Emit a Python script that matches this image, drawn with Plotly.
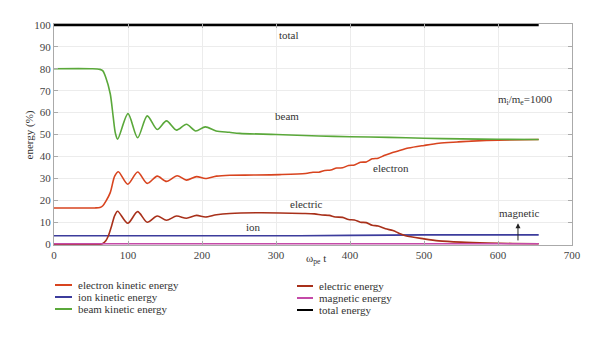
import plotly.graph_objects as go

# ---------------- data ----------------
t_beam = [0, 50, 62, 66, 70, 76, 80, 83, 86, 100, 113, 126, 139.5, 152, 165.6, 179, 191.5,
          204.5, 219, 237, 251, 300, 358, 400, 452, 500, 550, 600, 655]
beam = [80, 80, 79.7, 79, 76, 68.6, 58, 50.5, 47.9, 59.5, 48.5, 58.5, 52.3, 56.2, 52, 54.7, 51.6,
        53.5, 51.6, 51, 50.5, 50, 49.3, 49, 48.7, 48.3, 48, 47.8, 47.7]

t_electron = [0, 55, 62, 66, 70, 76, 82, 87, 99.7, 113, 126, 139.5, 152, 166.4, 179, 192.6, 204.6,
              219.6, 237.6, 270, 305, 340, 350, 358, 366, 374, 382, 390, 398, 406, 414, 422, 430,
              438, 446, 455, 466, 479, 500, 520, 545, 564, 600, 655]
electron = [16.5, 16.5, 16.7, 17.5, 19.5, 23.5, 31, 33, 27.3, 32.9, 27.7, 31, 28.6, 31.2, 29.2, 30.8,
            29.9, 31, 31.4, 31.5, 31.7, 32.2, 32.8, 32.8, 33.6, 33.8, 34.7, 34.8, 35.9, 36.1, 37.3,
            37.5, 38.9, 39.2, 40.4, 41.5, 42.6, 43.8, 45, 46, 46.6, 47, 47.4, 47.7]

t_electric = [0, 62, 66, 70, 73.5, 78, 82, 86, 99.7, 113, 126, 139.5, 152, 165.6, 179, 192.6, 204.6,
              219.6, 237.6, 278, 336, 352, 362, 372, 380, 390, 398, 406, 414, 422, 430, 438, 448,
              458, 466, 475, 500, 520, 550, 587, 620, 655]
electric = [0, 0, 0.3, 1.5, 3.8, 8.5, 13, 15, 9.5, 14.8, 10, 12.8, 10.9, 12.8, 11.8, 13.1, 12.4,
            13.4, 14, 14.3, 14, 13.8, 13.3, 13.1, 12.4, 12.2, 11.2, 11.0, 10.0, 9.8, 8.6, 8.3, 7.0,
            6.2, 5.0, 3.8, 2.4, 1.5, 0.9, 0.5, 0.3, 0.2]

t_ion = [0, 300, 400, 500, 655]
ion = [3.8, 3.8, 4.0, 4.2, 4.2]

t_magnetic = [0, 655]
magnetic = [0.15, 0.15]

t_total = [0, 655]
total = [100, 100]

x_ticks = [0, 100, 200, 300, 400, 500, 600, 700]
y_ticks = [0, 10, 20, 30, 40, 50, 60, 70, 80, 90, 100]

names = ["electron kinetic energy", "ion kinetic energy", "beam kinetic energy",
         "electric energy", "magnetic energy", "total energy"]
colors = ["#d8441f", "#3c3c9c", "#5aa83a", "#a8301a", "#c44aa8", "#000000"]

FONT = "Liberation Serif"

fig = go.Figure()
series = [(t_electron, electron), (t_ion, ion), (t_beam, beam),
          (t_electric, electric), (t_magnetic, magnetic), (t_total, total)]
for (tx, ty), name, col in zip(series, names, colors):
    fig.add_trace(go.Scatter(
        x=tx, y=ty, mode="lines", name=name,
        line=dict(color=col, width=2.6 if name == "total energy" else 1.6,
                  shape="spline", smoothing=0.8),
        showlegend=False))

# page offset (browser body margin) and plot-area geometry in window pixels
OFF = 8
FIG_W, FIG_H = 600 - OFF, 337 - OFF
L, R, T, B = 54, 572, 24, 245
W, H = R - L, B - T
def px(x):
    return (x - L) / W
def py(y):
    return (B - y) / H

leg_rows = [285, 297, 309]
leg_cols = [(55, 72), (297, 313)]
for i, (name, col) in enumerate(zip(names, colors)):
    c = i // 3
    r = i % 3
    x0, x1 = leg_cols[c]
    yy = leg_rows[r] + (1 if c == 1 else 0)
    fig.add_shape(type="line", xref="paper", yref="paper",
                  x0=px(x0), x1=px(x1), y0=py(yy), y1=py(yy),
                  line=dict(color=col, width=2))
    fig.add_annotation(xref="paper", yref="paper", x=px(x1 + 4), y=py(yy),
                       text=name, showarrow=False, xanchor="left", yanchor="middle",
                       font=dict(family=FONT, size=11, color="#333"))

# x-axis title
fig.add_annotation(xref="paper", yref="paper", x=px(316), y=py(268),
                   text="ω<sub>pe</sub> t", showarrow=False,
                   font=dict(family=FONT, size=11, color="#333"))
# y-axis title
fig.add_annotation(xref="paper", yref="paper", x=px(20), y=py(135),
                   text="energy (%)", showarrow=False, textangle=-90,
                   font=dict(family=FONT, size=11, color="#333"))

# curve labels
labels = [(318, 95.5, "total"), (315, 58.4, "beam"), (456, 34.8, "electron"),
          (340, 18.5, "electric"), (269, 7.7, "ion"),
          (636, 65.6, "m<sub>i</sub>/m<sub>e</sub>=1000")]
for x, y, txt in labels:
    fig.add_annotation(x=x, y=y, text=txt, showarrow=False,
                       font=dict(family=FONT, size=11, color="#333"))
fig.add_annotation(x=628, y=14, text="magnetic", showarrow=False,
                   font=dict(family=FONT, size=11, color="#333"))
fig.add_annotation(x=627, y=9.5, ax=627, ay=1, axref="x", ayref="y", text="",
                   showarrow=True, arrowhead=2, arrowsize=1, arrowwidth=1, arrowcolor="#222")

fig.update_layout(
    width=FIG_W, height=FIG_H,
    margin=dict(l=L - OFF, r=600 - R, t=T - OFF, b=337 - B, autoexpand=False),
    paper_bgcolor="white", plot_bgcolor="white",
    font=dict(family=FONT, size=11, color="#444"),
    showlegend=False,
)
fig.update_xaxes(range=[0, 700], tickvals=x_ticks, ticks="inside", ticklen=4,
                 tickcolor="#aaa", showline=True, linecolor="#aaa", linewidth=1,
                 mirror="allticks", showgrid=True, gridcolor="#ececec", zeroline=False,
                 automargin=False,
                 tickfont=dict(family=FONT, size=11, color="#444"))
fig.update_yaxes(range=[-0.4, 100.4], tickvals=y_ticks, ticks="inside", ticklen=4,
                 tickcolor="#aaa", showline=True, linecolor="#aaa", linewidth=1,
                 mirror="allticks", showgrid=True, gridcolor="#ececec", zeroline=False,
                 automargin=False,
                 tickfont=dict(family=FONT, size=11, color="#444"))

fig.write_html("out.html")
